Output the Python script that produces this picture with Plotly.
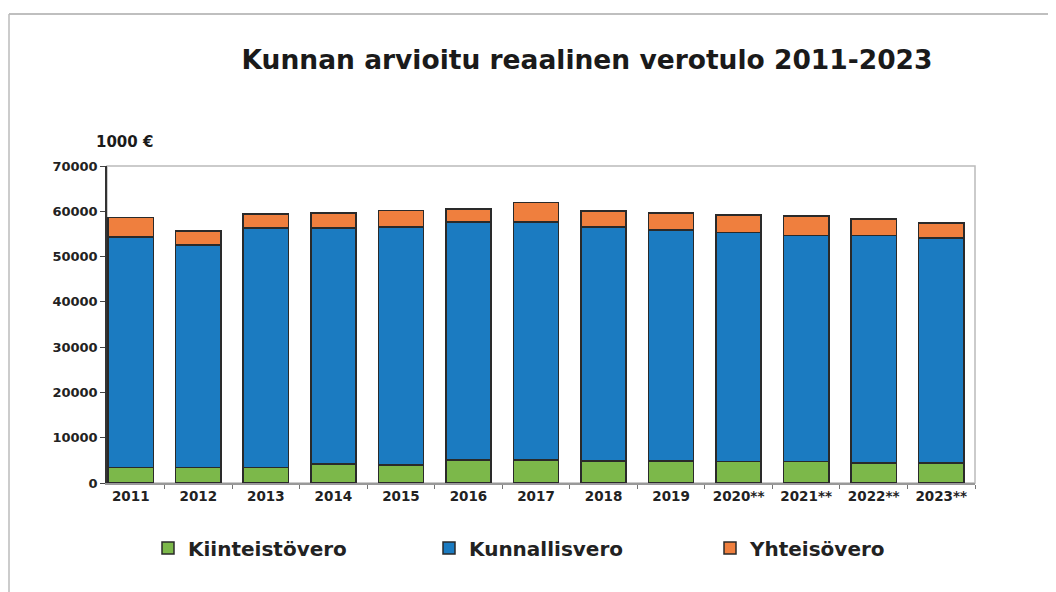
import plotly.graph_objects as go

years = ["2011", "2012", "2013", "2014", "2015", "2016", "2017", "2018", "2019",
         "2020**", "2021**", "2022**", "2023**"]
kiinteistovero = [3400, 3400, 3400, 4200, 4000, 5100, 5100, 4900, 4900, 4800, 4800, 4400, 4400]
kunnallisvero = [50900, 49200, 52900, 52100, 52500, 52500, 52500, 51600, 51000, 50500, 49800, 50200, 49700]
yhteisovero = [4300, 3100, 3100, 3300, 3700, 2900, 4300, 3600, 3700, 3900, 4400, 3700, 3300]

FONT = "DejaVu Sans"
line = dict(color="#2a2a2a", width=1.5)

fig = go.Figure()
fig.add_trace(go.Bar(x=years, y=kiinteistovero, name="Kiinteistövero",
                     marker=dict(color="#7cb84a", line=line)))
fig.add_trace(go.Bar(x=years, y=kunnallisvero, name="Kunnallisvero",
                     marker=dict(color="#1b7bc1", line=line)))
fig.add_trace(go.Bar(x=years, y=yhteisovero, name="Yhteisövero",
                     marker=dict(color="#ef7f3e", line=line)))

# page has an 8px body margin; work in displayed pixel coordinates
OFF = 8
W, H = 1056 - OFF, 592 - OFF
PL, PR, PT, PB = 107, 975, 166, 483  # plot area in displayed pixels
L, R, T, B = PL - OFF, W - (PR - OFF), PT - OFF, H - (PB - OFF)
pw, ph = PR - PL, PB - PT

def px(x):
    return (x - PL) / pw

def py(y):
    return (PB - y) / ph

fig.update_layout(
    width=W, height=H,
    barmode="stack", bargap=0.33,
    paper_bgcolor="white", plot_bgcolor="white",
    margin=dict(l=L, r=R, t=T, b=B),
    font=dict(family=FONT, color="#222"),
    title=dict(text="<b>Kunnan arvioitu reaalinen verotulo 2011-2023</b>",
               x=px(587), xref="paper", xanchor="center",
               y=1 - (60 - OFF) / H, yanchor="middle",
               font=dict(family=FONT, size=26.5, color="#1a1a1a")),
    showlegend=True,
    legend=dict(orientation="h", x=px(148), xanchor="left", y=py(548), yanchor="middle",
                traceorder="normal", entrywidth=236, entrywidthmode="pixels",
                font=dict(family=FONT, size=20, color="#222", weight="bold"),
                itemclick=False),
    xaxis=dict(showline=True, linecolor="#999", linewidth=1.5, ticks="outside",
               tickson="boundaries", ticklen=4, tickcolor="#777",
               range=[-0.5 + 10 / 67.5, 12.5],
               tickfont=dict(family=FONT, size=13.5, color="#222", weight="bold"),
               showgrid=False),
    yaxis=dict(range=[0, 70000], dtick=10000, showline=True, linecolor="#333",
               linewidth=1.5, ticks="outside", ticklen=5, tickcolor="#444",
               tickfont=dict(family=FONT, size=13, color="#222", weight="bold"),
               showgrid=False, zeroline=False, tickformat="d"),
    shapes=[
        dict(type="rect", xref="paper", yref="paper", x0=0, x1=1, y0=0, y1=1,
             line=dict(color="#bbb", width=1.5), layer="below"),
        dict(type="line", xref="paper", yref="paper", x0=px(9), x1=px(1056),
             y0=py(14), y1=py(14), line=dict(color="#aaa", width=1.5)),
        dict(type="line", xref="paper", yref="paper", x0=px(9), x1=px(9),
             y0=py(14), y1=py(592), line=dict(color="#bbb", width=1.5)),
    ],
    annotations=[
        dict(text="<b>1000 €</b>", xref="paper", yref="paper", x=px(94), y=py(142),
             xanchor="left", yanchor="middle", showarrow=False,
             font=dict(family=FONT, size=15, color="#1a1a1a")),
    ],
)

fig.write_html("out.html")
